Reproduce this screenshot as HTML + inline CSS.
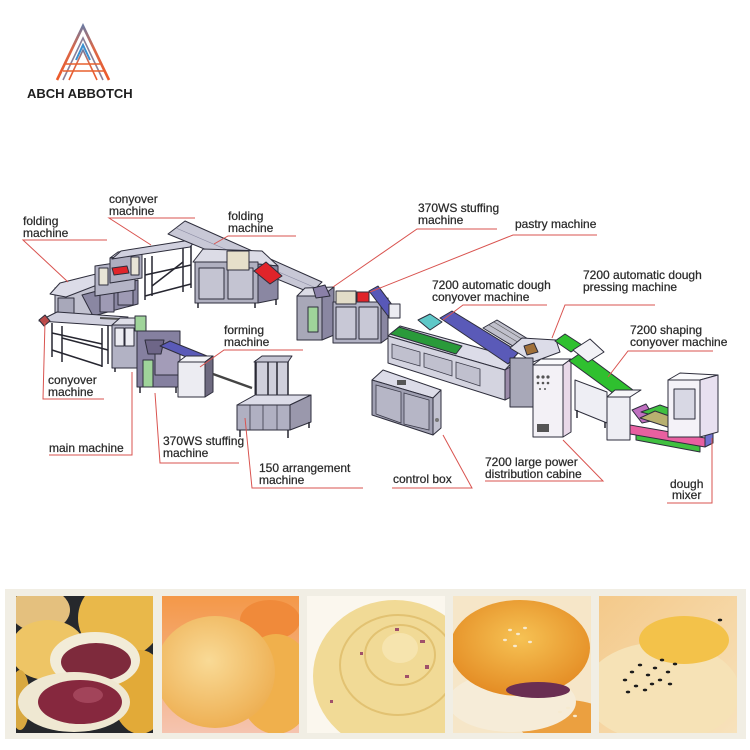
<!DOCTYPE html>
<html><head><meta charset="utf-8"><style>
html,body{margin:0;padding:0;background:#fff;}
svg{display:block}
.t{font-family:"Liberation Sans",sans-serif;font-size:12px;fill:#2b2b2b;stroke:#2b2b2b;stroke-width:0.25}
.ln{stroke:#d9534f;stroke-width:1;fill:none}
.o{stroke:#2e2e3c;stroke-width:1;stroke-linejoin:round}
.fr{stroke:#262630;stroke-width:1.5;fill:none}
</style></head><body>
<svg width="750" height="750" viewBox="0 0 750 750" xmlns="http://www.w3.org/2000/svg">
<defs>
 <linearGradient id="lg" x1="0" y1="1" x2="0" y2="0">
  <stop offset="0" stop-color="#ee5a2a"/><stop offset="0.6" stop-color="#d8684a"/><stop offset="1" stop-color="#6f7aa0"/>
 </linearGradient>
 <linearGradient id="g2" x1="0" y1="0" x2="0" y2="1">
  <stop offset="0" stop-color="#f49848"/><stop offset="1" stop-color="#f5c4b0"/>
 </linearGradient>
 <radialGradient id="r2" cx="0.45" cy="0.4" r="0.6">
  <stop offset="0" stop-color="#f9da96"/><stop offset="1" stop-color="#eeb054"/>
 </radialGradient>
 <radialGradient id="r4" cx="0.5" cy="0.4" r="0.6">
  <stop offset="0" stop-color="#f6c254"/><stop offset="1" stop-color="#e48c24"/>
 </radialGradient>
 <linearGradient id="g5" x1="0" y1="0" x2="1" y2="1">
  <stop offset="0" stop-color="#f4c98a"/><stop offset="1" stop-color="#f7e2bc"/>
 </linearGradient>
 <clipPath id="c1"><rect x="16" y="596" width="137" height="137"/></clipPath>
 <clipPath id="c2"><rect x="162" y="596" width="137" height="137"/></clipPath>
 <clipPath id="c3"><rect x="307" y="596" width="138" height="137"/></clipPath>
 <clipPath id="c4"><rect x="453" y="596" width="138" height="137"/></clipPath>
 <clipPath id="c5"><rect x="599" y="596" width="138" height="137"/></clipPath>
</defs>
<rect width="750" height="750" fill="#fff"/>

<!-- LOGO -->
<g fill="none" stroke-linejoin="miter">
 <polyline points="57,80 83,26 109,80" stroke="url(#lg)" stroke-width="2.6"/>
 <polyline points="63,80 83,38 103,80" stroke="#8a7f98" stroke-width="1.6"/>
 <polyline points="69,80 83,50 97,80" stroke="url(#lg)" stroke-width="1.6"/>
 <line x1="66" y1="64" x2="100" y2="64" stroke="#e8602e" stroke-width="1.6"/>
 <line x1="63" y1="71" x2="104" y2="71" stroke="#e8602e" stroke-width="1.6"/>
 <polyline points="76,60 83,45 90,60" stroke="#3a8fd0" stroke-width="2"/>
</g>
<text x="27" y="98" style="font-family:'Liberation Sans',sans-serif;font-weight:bold;font-size:13px;fill:#1e1e1e">ABCH ABBOTCH</text>

<!-- ============ MACHINES ============ -->
<!-- lower-left conveyor frame -->
<g class="fr">
 <line x1="52" y1="323" x2="52" y2="357"/>
 <line x1="62" y1="326" x2="62" y2="362"/>
 <line x1="102" y1="328" x2="102" y2="367"/>
 <line x1="108" y1="325" x2="108" y2="364"/>
 <line x1="52" y1="350" x2="102" y2="366"/>
 <line x1="62" y1="338" x2="108" y2="350"/>
 <line x1="52" y1="333" x2="102" y2="344"/>
</g>
<!-- upper-left conveyor frame -->
<g class="fr">
 <line x1="145" y1="258" x2="145" y2="300"/>
 <line x1="152" y1="256" x2="152" y2="296"/>
 <line x1="183" y1="248" x2="183" y2="292"/>
 <line x1="191" y1="246" x2="191" y2="288"/>
 <line x1="145" y1="296" x2="191" y2="284"/>
 <line x1="145" y1="275" x2="191" y2="265"/>
 <line x1="152" y1="286" x2="183" y2="262"/>
</g>
<!-- left folding machine -->
<polygon class="o" points="55,288 96,281 96,317 55,320" fill="#c2c2d0"/>
<rect class="o" x="58" y="298" width="16" height="16" fill="#a8a8ba"/>
<polygon class="o" points="82,295 138,280 138,304 93,316" fill="#8a87a2"/>
<rect class="o" x="100" y="290" width="14" height="22" fill="#9e9ab4"/>
<rect class="o" x="118" y="285" width="15" height="20" fill="#9e9ab4"/>
<polygon class="o" points="50,294 60,283 104,272 110,280 66,297" fill="#dcdce8"/>
<polygon class="o" points="95,266 135,260 135,290 95,296" fill="#b4b4c6"/>
<polygon class="o" points="110,258 142,253 142,278 110,283" fill="#aeaec0"/>
<polygon class="o" points="110,258 118,252 148,248 142,253" fill="#dedee8"/>
<polygon class="o" points="112,268 127,266 129,273 114,275" fill="#e0242a"/>
<rect class="o" x="99" y="268" width="9" height="17" fill="#e8e4d6"/>
<rect class="o" x="131" y="257" width="8" height="18" fill="#e8e4d6"/>
<!-- conveyors -->
<polygon class="o" points="112,259 121,251 197,239 190,247" fill="#d0d0de"/>
<polygon class="o" points="39,321 57,312 128,317 115,326" fill="#d0d0de"/>
<line x1="100" y1="318" x2="140" y2="320" stroke="#555" stroke-width="2"/>
<polygon class="o" points="39,320 45,315 50,321 44,326" fill="#b84a4a"/>

<!-- top middle folding machine -->
<polygon class="o" points="168,234 185,221 322,282 311,293" fill="#c8c8d6"/>
<line x1="176" y1="228" x2="316" y2="288" stroke="#8888a0" stroke-width="0.6"/>
<polygon class="o" points="193,262 203,249 262,251 278,266 258,264" fill="#dcdce6"/>
<rect class="o" x="195" y="262" width="63" height="41" fill="#b0b0c0"/>
<rect class="o" x="199" y="268" width="25" height="31" fill="#c4c4d2"/>
<rect class="o" x="228" y="268" width="25" height="31" fill="#c4c4d2"/>
<polygon class="o" points="258,264 278,266 278,299 258,303" fill="#8a87a2"/>
<rect class="o" x="227" y="251" width="22" height="19" fill="#e6dfca"/>
<polygon class="o" points="254,271 266,262 282,276 270,284" fill="#e0242a"/>
<g class="fr"><line x1="198" y1="303" x2="198" y2="308"/><line x1="255" y1="303" x2="255" y2="308"/><line x1="276" y1="299" x2="276" y2="305"/></g>

<!-- main machine group -->
<polygon class="o" points="112,325 120,318 143,318 135,325" fill="#dedee8"/>
<rect class="o" x="112" y="325" width="25" height="43" fill="#b2b2c4"/>
<rect class="o" x="115" y="328" width="9" height="18" fill="#ececf2"/>
<rect class="o" x="125" y="328" width="9" height="18" fill="#ececf2"/>
<rect class="o" x="135" y="316" width="11" height="15" fill="#9fd49a"/>
<rect class="o" x="137" y="331" width="43" height="56" fill="#8580a0"/>
<rect class="o" x="155" y="345" width="25" height="30" fill="#a39cb8"/>
<polygon class="o" points="145,340 164,340 161,354 148,354" fill="#6e6688"/>
<rect class="o" x="143" y="360" width="10" height="27" fill="#9fd49a"/>
<polygon class="o" points="160,346 170,341 212,358 203,364" fill="#5a5ab8"/>
<g class="fr"><line x1="140" y1="387" x2="140" y2="393"/><line x1="176" y1="387" x2="176" y2="393"/><line x1="115" y1="368" x2="115" y2="372"/></g>
<!-- forming -->
<polygon class="o" points="178,362 186,356 213,356 205,362" fill="#f2f2f6"/>
<rect class="o" x="178" y="362" width="27" height="35" fill="#ececf2"/>
<polygon class="o" points="205,362 213,356 213,392 205,397" fill="#6e6a80"/>
<line x1="213" y1="374" x2="252" y2="388" stroke="#444" stroke-width="2.4"/>
<!-- arrangement -->
<rect class="o" x="255" y="362" width="33" height="40" fill="#d0d0dc"/>
<g class="fr"><line x1="256" y1="360" x2="256" y2="404"/><line x1="268" y1="360" x2="268" y2="404"/><line x1="277" y1="360" x2="277" y2="404"/><line x1="288" y1="360" x2="288" y2="404"/></g>
<polygon class="o" points="254,362 262,356 292,356 288,362" fill="#c4c4d2"/>
<polygon class="o" points="237,405 255,395 311,395 290,405" fill="#dcdce8"/>
<rect class="o" x="237" y="405" width="53" height="25" fill="#b0b0c2"/>
<g stroke="#3a3a48" stroke-width="0.8"><line x1="250" y1="405" x2="250" y2="430"/><line x1="263" y1="405" x2="263" y2="430"/><line x1="277" y1="405" x2="277" y2="430"/></g>
<polygon class="o" points="290,405 311,395 311,422 290,430" fill="#9a98ac"/>
<g class="fr"><line x1="240" y1="430" x2="240" y2="437"/><line x1="288" y1="430" x2="288" y2="438"/><line x1="309" y1="422" x2="309" y2="428"/></g>

<!-- 370WS stuffing (right) -->
<polygon class="o" points="297,296 305,288 334,287 322,296" fill="#dcdce6"/>
<rect class="o" x="297" y="296" width="25" height="44" fill="#a8a8b8"/>
<polygon class="o" points="322,296 334,287 334,335 322,340" fill="#8a87a2"/>
<polygon class="o" points="313,288 325,285 330,296 316,298" fill="#8a80a8"/>
<rect class="o" x="308" y="307" width="10" height="25" fill="#9fd49a"/>
<!-- pastry -->
<rect class="o" x="333" y="302" width="48" height="41" fill="#b2b2c4"/>
<rect class="o" x="336" y="307" width="20" height="32" fill="#c8c8d6"/>
<rect class="o" x="359" y="307" width="19" height="32" fill="#c8c8d6"/>
<polygon class="o" points="381,302 388,298 388,338 381,343" fill="#8a87a2"/>
<rect class="o" x="336" y="291" width="20" height="13" fill="#e2dcc8"/>
<rect class="o" x="357" y="292" width="12" height="10" fill="#e0242a"/>
<polygon class="o" points="369,291 378,286 396,310 388,316" fill="#5858b8"/>
<rect class="o" x="389" y="304" width="11" height="14" fill="#ececf2"/>

<!-- 7200 dough conveyor machine -->
<polygon class="o" points="388,336 400,326 516,358 505,370" fill="#dcdce8"/>
<polygon class="o" points="388,336 505,370 505,400 388,363" fill="#d4d4e0"/>
<g stroke="#3a3a48" stroke-width="0.8" fill="#c0c0ce">
 <polygon points="392,344 420,352 420,366 392,358"/>
 <polygon points="424,353 452,361 452,376 424,367"/>
 <polygon points="456,362 480,369 480,386 456,378"/>
</g>
<polygon class="o" points="390,334 399,327 462,346 456,354" fill="#2a9a3a"/>
<polygon class="o" points="418,320 430,314 442,322 430,330" fill="#5fc8c8"/>
<polygon class="o" points="440,318 452,311 519,352 508,364" fill="#5a5ab8"/>
<polygon class="o" points="483,328 497,320 533,342 521,351" fill="#c0c0cc"/>
<g stroke="#555" stroke-width="0.6"><line x1="489" y1="325" x2="526" y2="347"/><line x1="494" y1="322" x2="530" y2="344"/></g>
<polygon class="o" points="505,370 515,364 515,395 505,400" fill="#9a8aa8"/>

<!-- pressing machine -->
<polygon class="o" points="510,348 522,338 556,340 560,352 533,362" fill="#dcdce8"/>
<rect class="o" x="510" y="358" width="23" height="49" fill="#a8a8b8"/>
<polygon class="o" points="524,346 534,343 538,352 527,355" fill="#a0703a"/>
<!-- distribution cabinet -->
<polygon class="o" points="533,365 541,359 571,359 563,365" fill="#fafafc"/>
<rect class="o" x="533" y="365" width="30" height="72" fill="#f3f1f6"/>
<polygon class="o" points="563,365 571,359 571,432 563,437" fill="#e8d8e8"/>
<g fill="#555"><circle cx="538" cy="377" r="1.6"/><circle cx="543" cy="377" r="1.6"/><circle cx="548" cy="377" r="1.6"/><circle cx="538" cy="383" r="1.3"/><circle cx="543" cy="383" r="1.3"/><circle cx="548" cy="383" r="1.3"/><circle cx="540" cy="389" r="1"/><circle cx="545" cy="389" r="1"/></g>
<rect x="537" y="424" width="12" height="8" fill="#555"/>
<!-- green conveyor -->
<polygon class="o" points="555,341 565,334 582,345 571,352" fill="#2fc02f"/>
<polygon class="o" points="575,380 607,392 607,423 575,410" fill="#eeeef4"/>
<g class="fr"><line x1="577" y1="410" x2="577" y2="418"/><line x1="605" y1="422" x2="605" y2="428"/></g>
<polygon class="o" points="569,361 582,352 633,390 621,399" fill="#2fc02f"/>
<polygon class="o" points="573,350 590,339 604,352 588,362" fill="#f2f2f6"/>
<!-- shaping -->
<polygon class="o" points="607,397 615,390 641,390 630,397" fill="#f6f6f8"/>
<rect class="o" x="607" y="397" width="23" height="43" fill="#eeeef4"/>
<!-- pink tray -->
<polygon class="o" points="632,410 646,404 656,420 642,423" fill="#c070c0"/>
<polygon class="o" points="641,412 660,405 716,425 705,430" fill="#40c040"/>
<polygon class="o" points="640,418 655,411 706,429 695,436" fill="#b8b070"/>
<polygon class="o" points="636,433 700,446 700,452 636,440" fill="#40c040"/>
<polygon class="o" points="630,425 705,438 705,447 630,434" fill="#e860a0"/>
<polygon class="o" points="705,431 713,428 713,443 705,447" fill="#7070d0"/>
<!-- dough mixer -->
<polygon class="o" points="668,380 680,373 718,375 700,380" fill="#fafafc"/>
<rect class="o" x="668" y="380" width="32" height="57" fill="#f4f2f8"/>
<rect class="o" x="674" y="389" width="21" height="30" fill="#d8d8e4"/>
<polygon class="o" points="700,380 718,375 718,432 700,437" fill="#e8e0f0"/>

<!-- control box -->
<polygon class="o" points="372,380 383,370 441,390 433,398" fill="#dcdce8"/>
<polygon class="o" points="372,380 433,398 433,435 372,415" fill="#a0a0b2"/>
<polygon stroke="#3a3a48" stroke-width="0.8" points="376,385 401,392 401,423 376,414" fill="#b6b6c6"/>
<polygon stroke="#3a3a48" stroke-width="0.8" points="404,393 429,400 429,430 404,424" fill="#b6b6c6"/>
<polygon class="o" points="433,398 441,390 441,428 433,435" fill="#c2c2d0"/>
<rect x="397" y="380" width="9" height="5" fill="#555"/>
<circle cx="437" cy="420" r="2" fill="#777"/>

<!-- ============ LEADER LINES ============ -->
<g class="ln">
 <polyline points="107,240 23,240 68,282"/>
 <polyline points="195,218 109,218 151,245"/>
 <polyline points="296,236 228,236 214,244"/>
 <polyline points="303,350 224,350 200,367"/>
 <polyline points="45,322 43,399 104,399"/>
 <polyline points="49,455 132,455 132,372"/>
 <polyline points="239,463 160,463 155,393"/>
 <polyline points="363,488 252,488 245,418"/>
 <polyline points="497,229 417,229 333,287"/>
 <polyline points="597,235 513,235 370,292"/>
 <polyline points="547,305 463,305 443,320"/>
 <polyline points="655,305 565,305 552,338"/>
 <polyline points="713,351 628,351 608,377"/>
 <polyline points="392,488 472,488 443,435"/>
 <polyline points="485,481 603,481 563,440"/>
 <polyline points="667,503 712,503 712,438"/>
</g>

<!-- ============ LABELS ============ -->
<g class="t">
 <text x="23" y="225">folding</text><text x="23" y="237">machine</text>
 <text x="109" y="203">conyover</text><text x="109" y="215">machine</text>
 <text x="228" y="220">folding</text><text x="228" y="232">machine</text>
 <text x="224" y="334">forming</text><text x="224" y="346">machine</text>
 <text x="48" y="384">conyover</text><text x="48" y="396">machine</text>
 <text x="49" y="452">main machine</text>
 <text x="163" y="445">370WS  stuffing</text><text x="163" y="457">machine</text>
 <text x="259" y="472">150 arrangement</text><text x="259" y="484">machine</text>
 <text x="418" y="212">370WS  stuffing</text><text x="418" y="224">machine</text>
 <text x="515" y="228">pastry machine</text>
 <text x="432" y="289">7200 automatic dough</text><text x="432" y="301">conyover machine</text>
 <text x="583" y="279">7200 automatic dough</text><text x="583" y="291">pressing machine</text>
 <text x="630" y="334">7200 shaping</text><text x="630" y="346">conyover machine</text>
 <text x="393" y="483">control box</text>
 <text x="485" y="466">7200 large power</text><text x="485" y="478">distribution cabine</text>
 <text x="670" y="488">dough</text><text x="672" y="499">mixer</text>
</g>

<!-- ============ PHOTO STRIP ============ -->
<rect x="5" y="589" width="741" height="150" fill="#f1eee4"/>
<!-- photo 1 -->
<g clip-path="url(#c1)">
 <rect x="16" y="596" width="137" height="137" fill="#26282c"/>
 <ellipse cx="40" cy="610" rx="30" ry="22" fill="#e4c07e"/>
 <ellipse cx="120" cy="618" rx="42" ry="40" fill="#e9b84a"/>
 <ellipse cx="48" cy="650" rx="38" ry="30" fill="#eec565"/>
 <ellipse cx="140" cy="692" rx="28" ry="42" fill="#e2aa38"/>
 <ellipse cx="20" cy="700" rx="10" ry="30" fill="#d8a840"/>
 <ellipse cx="95" cy="660" rx="45" ry="28" fill="#f2ecd8"/>
 <ellipse cx="96" cy="662" rx="35" ry="19" fill="#7e2a3c"/>
 <ellipse cx="74" cy="702" rx="56" ry="30" fill="#efe8d2"/>
 <ellipse cx="80" cy="702" rx="42" ry="22" fill="#86283e"/>
 <ellipse cx="88" cy="695" rx="15" ry="8" fill="#a2445a"/>
</g>
<!-- photo 2 -->
<g clip-path="url(#c2)">
 <rect x="162" y="596" width="137" height="137" fill="url(#g2)"/>
 <ellipse cx="270" cy="620" rx="30" ry="20" fill="#f08a3a"/>
 <ellipse cx="276" cy="684" rx="38" ry="50" fill="#f0b04c"/>
 <ellipse cx="215" cy="672" rx="60" ry="56" fill="url(#r2)"/>
</g>
<!-- photo 3 -->
<g clip-path="url(#c3)">
 <rect x="307" y="596" width="138" height="137" fill="#fbf7ee"/>
 <ellipse cx="395" cy="676" rx="82" ry="76" fill="#f1da96"/>
 <g fill="none" stroke="#e2c272" stroke-width="2">
  <ellipse cx="400" cy="655" rx="35" ry="30"/>
  <ellipse cx="398" cy="665" rx="58" ry="50"/>
 </g>
 <ellipse cx="400" cy="648" rx="18" ry="15" fill="#f6e4ae"/>
 <g fill="#a0506a">
  <rect x="395" y="628" width="4" height="3"/><rect x="420" y="640" width="5" height="3"/><rect x="425" y="665" width="4" height="4"/>
  <rect x="360" y="652" width="3" height="3"/><rect x="405" y="675" width="4" height="3"/><rect x="330" y="700" width="3" height="3"/>
 </g>
</g>
<!-- photo 4 -->
<g clip-path="url(#c4)">
 <rect x="453" y="596" width="138" height="137" fill="#f6e6c8"/>
 <ellipse cx="565" cy="722" rx="48" ry="22" fill="#eba040"/>
 <ellipse cx="512" cy="702" rx="64" ry="30" fill="#f6ecd8"/>
 <ellipse cx="520" cy="648" rx="70" ry="48" fill="url(#r4)"/>
 <ellipse cx="538" cy="690" rx="32" ry="8" fill="#6a2e52"/>
 <g fill="#f6ead0">
  <ellipse cx="510" cy="630" rx="2" ry="1.2"/><ellipse cx="518" cy="634" rx="2" ry="1.2"/><ellipse cx="525" cy="628" rx="2" ry="1.2"/>
  <ellipse cx="505" cy="640" rx="2" ry="1.2"/><ellipse cx="530" cy="642" rx="2" ry="1.2"/><ellipse cx="515" cy="646" rx="2" ry="1.2"/>
  <ellipse cx="560" cy="712" rx="2" ry="1.2"/><ellipse cx="568" cy="708" rx="2" ry="1.2"/><ellipse cx="575" cy="716" rx="2" ry="1.2"/>
 </g>
</g>
<!-- photo 5 -->
<g clip-path="url(#c5)">
 <rect x="599" y="596" width="138" height="137" fill="url(#g5)"/>
 <ellipse cx="662" cy="692" rx="78" ry="50" fill="#f6e2b6"/>
 <ellipse cx="684" cy="640" rx="45" ry="24" fill="#f3c24a"/>
 <g fill="#1c1c1c">
  <ellipse cx="625" cy="680" rx="2.2" ry="1.4"/><ellipse cx="632" cy="672" rx="2.2" ry="1.4"/><ellipse cx="640" cy="665" rx="2.2" ry="1.4"/>
  <ellipse cx="648" cy="675" rx="2.2" ry="1.4"/><ellipse cx="655" cy="668" rx="2.2" ry="1.4"/><ellipse cx="662" cy="660" rx="2.2" ry="1.4"/>
  <ellipse cx="636" cy="686" rx="2.2" ry="1.4"/><ellipse cx="645" cy="690" rx="2.2" ry="1.4"/><ellipse cx="660" cy="680" rx="2.2" ry="1.4"/>
  <ellipse cx="668" cy="672" rx="2.2" ry="1.4"/><ellipse cx="675" cy="664" rx="2.2" ry="1.4"/><ellipse cx="652" cy="684" rx="2.2" ry="1.4"/>
  <ellipse cx="628" cy="692" rx="2.2" ry="1.4"/><ellipse cx="670" cy="684" rx="2.2" ry="1.4"/><ellipse cx="720" cy="620" rx="2.2" ry="1.4"/>
 </g>
</g>
</svg>
</body></html>
